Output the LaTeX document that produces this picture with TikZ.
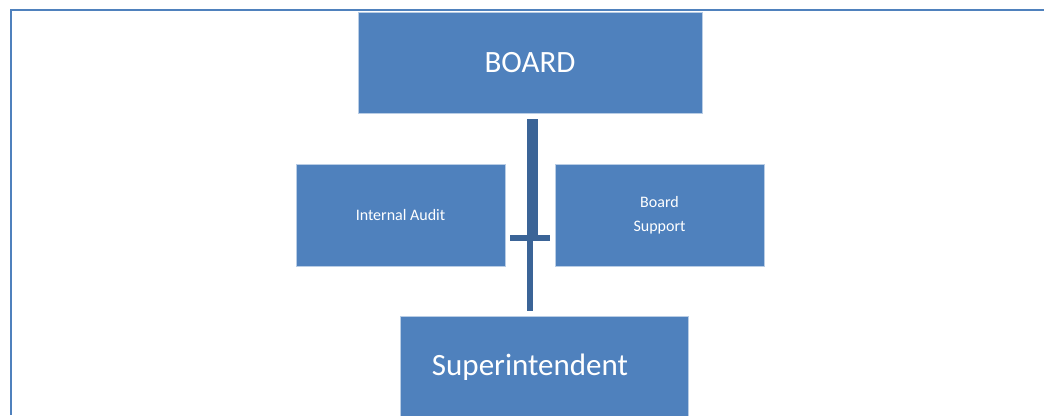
\documentclass[tikz,border=0pt]{standalone}
\usepackage{xcolor}
\usepackage{tikz}
\usepackage{fontspec}
\setmainfont{Carlito}
\usetikzlibrary{positioning, calc}
\definecolor{boxblue}{HTML}{4F81BD}
\definecolor{lineblue}{HTML}{3B6497}
\definecolor{frameblue}{HTML}{4F81BD}

\begin{document}
\begin{tikzpicture}[
  x=1pt, y=-1pt,
  bigbox/.style={rectangle, draw=white!60!boxblue, line width=0.6pt, fill=boxblue, text=white, inner sep=0pt, font=\fontsize{31}{37}\selectfont, align=center},
  smallbox/.style={rectangle, draw=white!60!boxblue, line width=0.6pt, fill=boxblue, text=white, inner sep=0pt, minimum width=209pt, minimum height=102pt, font=\fontsize{16}{24}\selectfont, align=center},
  boxtext/.style={text=white, inner sep=0pt, font=\fontsize{31}{37}\selectfont},
  trunk/.style={draw=lineblue, line width=10.5pt},
  stem/.style={draw=lineblue, line width=5.7pt},
  frame/.style={draw=frameblue, line width=2pt}
]
  \useasboundingbox (0,0) rectangle (1044,415);

  % Frame
  \draw[frame] (1044,9.7) -- (11,9.7) -- (11,415);

  % Board
  \node[bigbox, minimum width=344pt, minimum height=101pt] (board) at (530,62.5) {BOARD};

  % Staff units
  \node[smallbox] (audit) at (400.5,215) {Internal Audit};
  \node[smallbox] (support) at (659.5,215) {Board\\Support};

  % Superintendent
  \node[bigbox, minimum width=288pt, minimum height=101pt,
        label={[boxtext, xshift=-14pt]center:Superintendent}] (supt) at (544,367) {};

  % Connectors
  \coordinate (trunktop) at ([xshift=2.5pt,yshift=-6pt]board.south);
  \coordinate (tee) at (532.5,238);
  \coordinate (teeL) at (510,237.7);
  \coordinate (teeR) at (550,237.7);
  \coordinate (stemtop) at (530.2,237);
  \draw[trunk] (trunktop) -- (tee);
  \draw[stem] (teeL) -- (teeR);
  \draw[stem, shorten >=5.5pt] (stemtop) -- (stemtop |- supt.north);
\end{tikzpicture}
\end{document}
